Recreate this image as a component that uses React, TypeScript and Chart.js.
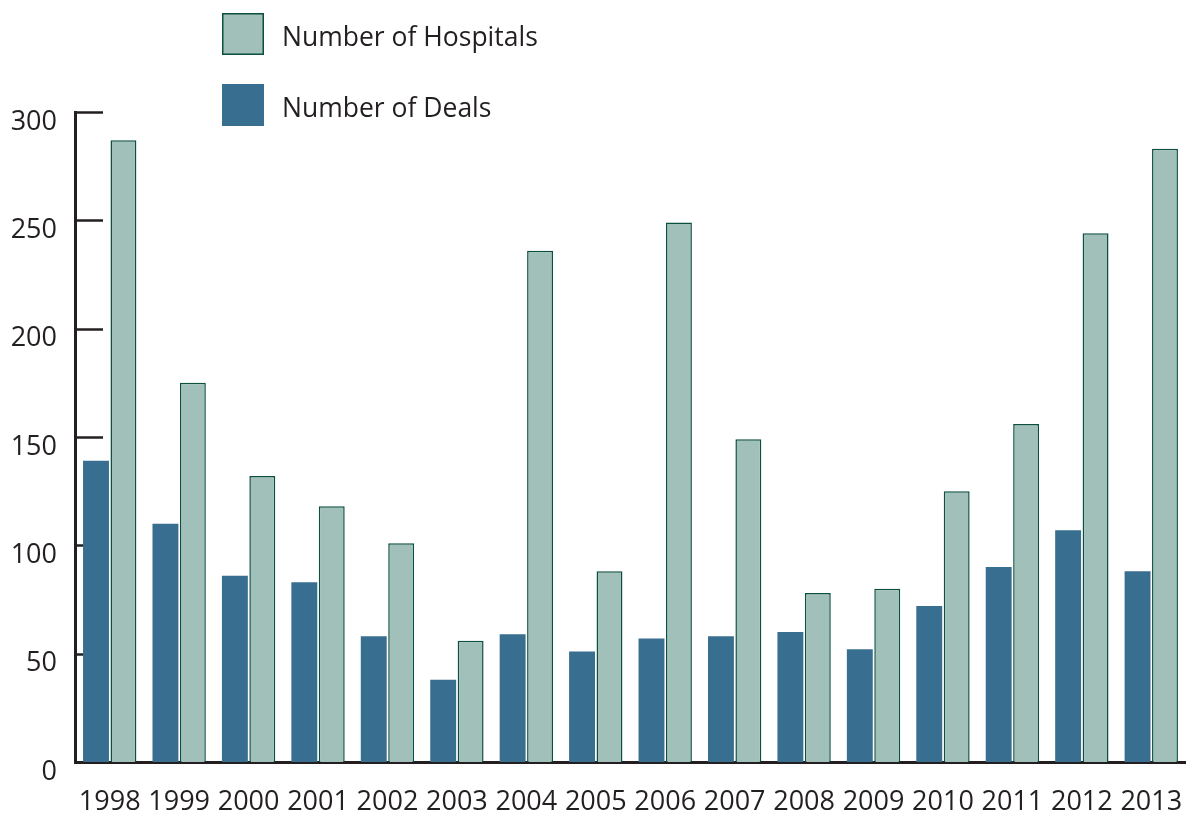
import React, { useEffect, useRef } from "react";
import { Chart, registerables } from "chart.js";

Chart.register(...registerables);

const years = ["1998","1999","2000","2001","2002","2003","2004","2005","2006","2007","2008","2009","2010","2011","2012","2013"];
const deals = [139, 110, 86, 83, 58, 38, 59, 51, 57, 58, 60, 52, 72, 90, 107, 88];
const hospitals = [287, 175, 132, 118, 101, 56, 236, 88, 249, 149, 78, 80, 125, 156, 244, 283];
const yTicks = [0, 50, 100, 150, 200, 250, 300];

const FONT = "'Open Sans', 'Noto Sans', sans-serif";
const INK = "#231F20";
const DEAL_COLOR = "#386E8F";
const HOSP_FILL = "#A1C0BA";
const HOSP_BORDER = "#0B4F3F";

const innerTicks = {
  id: "innerTicks",
  beforeDatasetsDraw(chart: any) {
    const { ctx, chartArea, scales } = chart;
    const y = scales.y;
    ctx.save();
    ctx.strokeStyle = INK;
    ctx.lineWidth = 2.5;
    yTicks.forEach((v) => {
      const py = Math.round(y.getPixelForValue(v)) + 0.5;
      ctx.beginPath();
      ctx.moveTo(chartArea.left, py);
      ctx.lineTo(chartArea.left + 28, py);
      ctx.stroke();
    });
    ctx.restore();
  },
};

const sideLegend = {
  id: "sideLegend",
  afterDraw(chart: any) {
    const { ctx } = chart;
    const ds = chart.data.datasets;
    const order = [1, 0];
    ctx.save();
    order.forEach((idx, i) => {
      const d = ds[idx];
      const bx = 222;
      const by = 13 + i * 71;
      const size = 42;
      ctx.fillStyle = d.backgroundColor;
      ctx.fillRect(bx, by, size, size);
      if (d.borderWidth) {
        ctx.strokeStyle = d.borderColor;
        ctx.lineWidth = 1.5;
        ctx.strokeRect(bx + 0.75, by + 0.75, size - 1.5, size - 1.5);
      }
      ctx.fillStyle = INK;
      ctx.font = `26.5px ${FONT}`;
      ctx.textBaseline = "middle";
      ctx.textAlign = "left";
      ctx.fillText(d.label, 282, by + size / 2 + 4);
    });
    ctx.restore();
  },
};

export default function App() {
  const ref = useRef<HTMLCanvasElement | null>(null);

  useEffect(() => {
    if (!ref.current) return;
    const chart = new Chart(ref.current, {
      type: "bar",
      data: {
        labels: years,
        datasets: [
          {
            label: "Number of Deals",
            data: deals,
            backgroundColor: DEAL_COLOR,
            borderWidth: 0,
            categoryPercentage: 0.79,
            barPercentage: 0.945,
          },
          {
            label: "Number of Hospitals",
            data: hospitals,
            backgroundColor: HOSP_FILL,
            borderColor: HOSP_BORDER,
            borderWidth: 1.5,
            categoryPercentage: 0.79,
            barPercentage: 0.945,
          },
        ],
      },
      options: {
        responsive: false,
        animation: false,
        devicePixelRatio: 1,
        layout: { padding: { top: 112, left: 0, right: 0, bottom: 0 } },
        plugins: {
          legend: { display: false },
          tooltip: { enabled: false },
          title: { display: false },
        },
        scales: {
          x: {
            grid: { display: false, drawTicks: false },
            border: { display: true, color: INK, width: 3 },
            ticks: {
              color: INK,
              font: { family: FONT, size: 27 },
              padding: 24,
              maxRotation: 0,
              autoSkip: false,
            },
            afterFit(scale: any) {
              scale.height = 53;
              scale.paddingLeft = 0;
              scale.paddingRight = 0;
            },
          },
          y: {
            min: 0,
            max: 300,
            grid: { display: false, drawTicks: false },
            border: { display: true, color: INK, width: 3 },
            ticks: {
              stepSize: 50,
              color: INK,
              font: { family: FONT, size: 27 },
              padding: 18,
              labelOffset: 10,
            },
            afterFit(scale: any) {
              scale.width = 75;
              scale.paddingTop = 0;
              scale.paddingBottom = 0;
            },
          },
        },
      },
      plugins: [innerTicks, sideLegend],
    });
    return () => chart.destroy();
  }, []);

  return (
    <div style={{ position: "absolute", left: 0, top: 0, width: 1186, height: 815, background: "#fff" }}>
      <canvas ref={ref} width={1186} height={815} style={{ display: "block" }} />
    </div>
  );
}
